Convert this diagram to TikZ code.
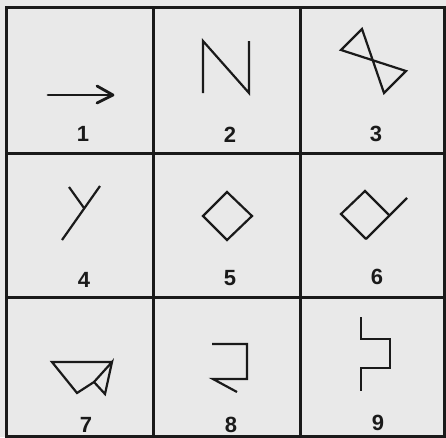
\documentclass[tikz,border=0pt]{standalone}
\usepackage{fontspec}
\setmainfont{Liberation Sans}
\definecolor{paper}{HTML}{E9E9E9}
\definecolor{ink}{HTML}{1A1A1A}
\begin{document}
\begin{tikzpicture}[x=1pt,y=-1pt,
  gridline/.style={ink,line width=3pt},
  sym/.style={ink,line width=2.2pt,line join=miter,line cap=butt},
  lab/.style={ink,font=\fontsize{22}{22}\selectfont\bfseries,inner sep=0pt,anchor=center}]
\fill[paper] (0,0) rectangle (446,437);
\useasboundingbox (0,0) rectangle (446,437);
% grid
\draw[gridline] (6,7) rectangle (444,436);
\draw[gridline] (153,7) -- (153,436);
\draw[gridline] (300,7) -- (300,436);
\draw[gridline] (6,153) -- (444,153);
\draw[gridline] (6,297) -- (444,297);
% 1 arrow
\draw[sym,line width=2.8pt,line cap=round] (48,95) -- (112,95);
\draw[sym,line width=2.8pt,line cap=round,line join=round] (97,86) -- (113,95) -- (97,103);
% 2 N
\draw[sym] (203,93) -- (203,41) -- (249,93) -- (249,41);
% 3 bowtie
\draw[sym] (362,29) -- (341,50) -- (406,71) -- (384,93) -- cycle;
% 4 Y
\draw[sym] (62,240) -- (100,186);
\draw[sym] (69,187) -- (84,208);
% 5 diamond
\draw[sym] (227,192) -- (252,216) -- (227,240) -- (203,216) -- cycle;
% 6 diamond with tail
\draw[sym] (366,239) -- (341,214) -- (365,191) -- (389,215);
\draw[sym] (366,239) -- (407,198);
% 7 plane
\draw[sym] (112,362) -- (52,362) -- (77,393) -- (94,382) -- (112,362) -- (105,394) -- (94,382);
% 8
\draw[sym] (212,344) -- (247,344) -- (247,379) -- (213,379) -- (237,392);
% 9
\draw[sym] (361,317) -- (361,339) -- (390,339) -- (390,368) -- (361,368) -- (361,391);
% labels
\node[lab] (l1) at (83,134) {1};
\node[lab] (l2) at (230,135) {2};
\node[lab] (l3) at (376,134) {3};
\node[lab] (l4) at (84,280) {4};
\node[lab] (l5) at (230,278) {5};
\node[lab] (l6) at (377,277) {6};
\node[lab] (l7) at (86,425) {7};
\node[lab] (l8) at (231,425) {8};
\node[lab] (l9) at (378,423) {9};
\end{tikzpicture}
\end{document}
